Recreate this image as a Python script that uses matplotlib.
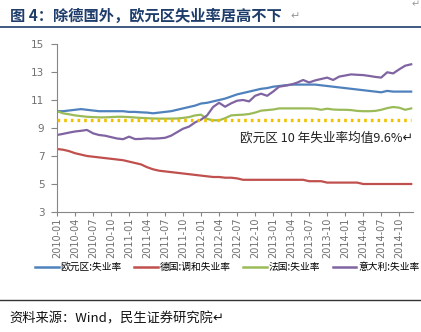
import numpy as np
import pandas as pd
import matplotlib
matplotlib.use('Agg')
import matplotlib.pyplot as plt
from matplotlib.lines import Line2D

plt.rcParams['font.family'] = ['Noto Sans CJK SC', 'DejaVu Sans']

# --- data (monthly, 2010-01 .. 2014-12) ---
months = pd.date_range('2010-01-01', periods=60, freq='MS').strftime('%Y-%m').tolist()

euro = [10.2, 10.2, 10.25, 10.3, 10.35, 10.3, 10.25, 10.2, 10.2, 10.2,
        10.2, 10.2, 10.15, 10.15, 10.12, 10.1, 10.05, 10.1, 10.15, 10.2,
        10.3, 10.4, 10.5, 10.6, 10.75, 10.8, 10.9, 11.0, 11.1, 11.25,
        11.4, 11.5, 11.6, 11.7, 11.8, 11.85, 11.95, 12.0, 12.05, 12.1,
        12.1, 12.1, 12.1, 12.1, 12.05, 12.0, 11.95, 11.9, 11.85, 11.8,
        11.75, 11.7, 11.65, 11.6, 11.55, 11.65, 11.6, 11.6, 11.6, 11.6]

germany = [7.5, 7.45, 7.35, 7.2, 7.1, 7.0, 6.95, 6.9, 6.85, 6.8,
           6.75, 6.7, 6.6, 6.5, 6.4, 6.2, 6.05, 5.95, 5.9, 5.85,
           5.8, 5.75, 5.7, 5.65, 5.6, 5.55, 5.5, 5.5, 5.45, 5.45,
           5.4, 5.3, 5.3, 5.3, 5.3, 5.3, 5.3, 5.3, 5.3, 5.3,
           5.3, 5.3, 5.2, 5.2, 5.2, 5.1, 5.1, 5.1, 5.1, 5.1,
           5.1, 5.0, 5.0, 5.0, 5.0, 5.0, 5.0, 5.0, 5.0, 5.0]

france = [10.2, 10.05, 9.98, 9.9, 9.85, 9.8, 9.78, 9.76, 9.76, 9.78,
          9.8, 9.8, 9.78, 9.75, 9.72, 9.7, 9.68, 9.67, 9.67, 9.67,
          9.68, 9.72, 9.78, 9.9, 9.95, 9.65, 9.55, 9.55, 9.7, 9.9,
          9.93, 9.95, 10.0, 10.1, 10.24, 10.28, 10.32, 10.4, 10.4, 10.4,
          10.4, 10.4, 10.4, 10.38, 10.3, 10.38, 10.32, 10.3, 10.3, 10.28,
          10.22, 10.2, 10.2, 10.22, 10.3, 10.42, 10.5, 10.45, 10.3, 10.4]

italy = [8.5, 8.58, 8.67, 8.75, 8.8, 8.86, 8.62, 8.5, 8.45, 8.35,
         8.25, 8.2, 8.38, 8.21, 8.22, 8.26, 8.24, 8.26, 8.3, 8.45,
         8.7, 8.95, 9.1, 9.4, 9.6, 9.9, 10.5, 10.8, 10.52, 10.76,
         10.95, 11.0, 10.9, 11.3, 11.45, 11.3, 11.6, 11.95, 12.02, 12.1,
         12.24, 12.43, 12.25, 12.4, 12.5, 12.6, 12.43, 12.67, 12.75, 12.83,
         12.8, 12.78, 12.72, 12.65, 12.6, 12.98, 12.9, 13.19, 13.45, 13.55]

euro_avg = 9.6

series_names = ['欧元区:失业率', '德国:调和失业率', '法国:失业率', '意大利:失业率']
colors = ['#4F81BD', '#C0504D', '#9BBB59', '#8064A2']

# --- figure ---
fig = plt.figure(figsize=(4.21, 3.32), dpi=100)
ax = fig.add_axes([57/421, 1 - 212/332, (413 - 57)/421, (212 - 44)/332])

x = np.arange(len(months))
ax.plot([x[0], x[-1]], [euro_avg, euro_avg], color='#F2C200', lw=2.4,
        linestyle=(0, (0.8, 1.2)), zorder=3)
for vals, c in zip([euro, germany, france, italy], colors):
    ax.plot(x, vals, color=c, lw=1.6, zorder=2)

ax.set_xlim(0, 59.3)
ax.set_ylim(3, 15)
ax.set_yticks(range(3, 16, 2))
ax.set_xticks(x[::3])
ax.set_xticklabels(months[::3], rotation=90, fontsize=7, color='#707070',
                   family='DejaVu Sans')
for lab in ax.get_yticklabels():
    lab.set_fontsize(7.5)
    lab.set_color('#707070')
    lab.set_family('DejaVu Sans')
ax.tick_params(axis='y', length=4, width=0.8, color='#868686', pad=5)
ax.tick_params(axis='x', length=3, width=0.8, color='#868686', pad=1)
for s in ['top', 'right']:
    ax.spines[s].set_visible(False)
for s in ['left', 'bottom']:
    ax.spines[s].set_color('#868686')
    ax.spines[s].set_linewidth(0.8)

fig.text(240/421, 1 - 138/332, '欧元区 10 年失业率均值9.6%↵', fontsize=9.1,
         color='#222222', ha='left', va='center')

# title
fig.text(10/421, 1 - 16/332, '图 4：除德国外，欧元区失业率居高不下', fontsize=11,
         fontweight='bold', color='#1F3D6B', ha='left', va='center')
fig.text(290/421, 1 - 16/332, '↵', fontsize=8, color='#999999', ha='left', va='center')
fig.text(412/421, 1 - 4/332, '↵', fontsize=7, color='#999999', ha='left', va='center')
fig.add_artist(Line2D([0, 1], [1 - 27/332, 1 - 27/332], color='#1F3D6B', lw=1.2))

# legend
handles = [Line2D([], [], color=c, lw=1.8) for c in colors]
fig.legend(handles, series_names, loc='center', bbox_to_anchor=(0.54, 1 - 267/332),
           ncol=4, frameon=False, fontsize=7, handlelength=2.4, handletextpad=0.2,
           columnspacing=1.3, borderpad=0)

# source line
fig.add_artist(Line2D([0, 1], [1 - 300/332, 1 - 300/332], color='#333333', lw=1.0))
fig.text(9/421, 1 - 319/332, '资料来源：Wind，民生证券研究院↵', fontsize=9.5,
         color='#111111', ha='left', va='center')

fig.savefig('out.png', dpi=100)
